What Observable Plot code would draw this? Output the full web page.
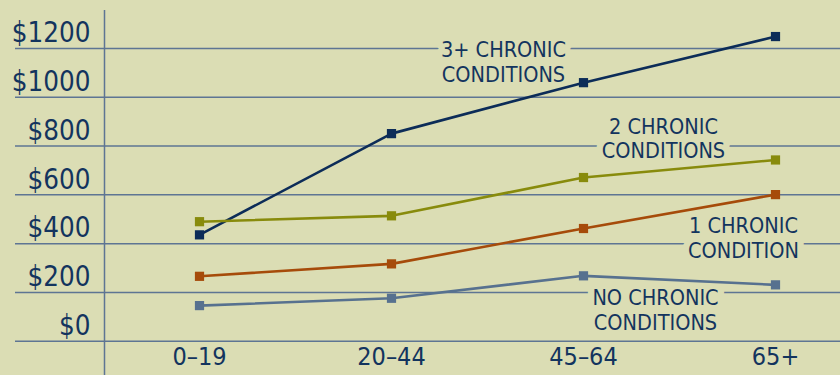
<!DOCTYPE html>
<html>
<head>
<meta charset="utf-8">
<script src="https://cdn.jsdelivr.net/npm/d3@7"></script>
<script src="https://cdn.jsdelivr.net/npm/@observablehq/plot@0.6"></script>
<style>
  html, body { margin: 0; padding: 0; background: #dbddb4; }
  #chart svg { display: block; }
</style>
</head>
<body>
<div id="chart"></div>
<script>
const ages = ["0–19", "20–44", "45–64", "65+"];
const yTicks = [0, 200, 400, 600, 800, 1000, 1200];
const threePlus = [436, 851, 1060, 1249];
const twoChronic = [490, 514, 671, 743];
const oneChronic = [266, 317, 462, 601];
const noChronic = [146, 176, 268, 231];
const seriesNames = ["3+ CHRONIC\nCONDITIONS", "2 CHRONIC\nCONDITIONS", "1 CHRONIC\nCONDITION", "NO CHRONIC\nCONDITIONS"];
const seriesValues = [threePlus, twoChronic, oneChronic, noChronic];
const seriesColors = ["#0c2c58", "#888b0c", "#a64b0a", "#57718f"];

const rows = seriesValues.flatMap((vals, i) =>
  vals.map((v, j) => ({series: seriesNames[i], age: ages[j], value: v, color: seriesColors[i]})));

const bg = "#dbddb4";
const grid = "#5e7593";
const ink = "#13345e";
const font = "'Liberation Sans Narrow', 'DejaVu Sans Condensed', 'Arial Narrow', sans-serif";

// label anchors: [series index, anchor age, anchor gridline value, dx, dy]
const labelAnchors = [
  [0, ages[2], 1200, -80, 13],
  [1, ages[2], 800, 80, -8],
  [2, ages[3], 400, -32, -6],
  [3, ages[2], 200, 72, 17]
];

const labelMarks = labelAnchors.map(([i, a, v, dx, dy]) =>
  Plot.text([{age: a, value: v, text: seriesNames[i]}], {
    x: "age", y: "value", text: "text", dx, dy,
    fill: ink, stroke: bg, strokeWidth: 13, paintOrder: "stroke",
    fontSize: 21.5, lineHeight: 1.15, fontFamily: font
  }));

const chart = Plot.plot({
  width: 840,
  height: 375,
  marginTop: 0, marginRight: 0, marginBottom: 0, marginLeft: 0,
  style: {background: bg, fontFamily: font},
  x: {type: "point", domain: ages, range: [198, 776], padding: 0, axis: null},
  y: {type: "linear", domain: [0, 1200], range: [340.7, 48], axis: null},
  marks: [
    Plot.ruleY(yTicks, {stroke: grid, strokeWidth: 1.5, insetLeft: 15}),
    Plot.ruleX([ages[0]], {dx: -95, insetTop: 10, stroke: grid, strokeWidth: 1.5}),
    Plot.text(yTicks, {
      y: d => d, text: d => "$" + d, frameAnchor: "left", dx: 90, dy: -15,
      textAnchor: "end", fontSize: 27.5, fill: ink, fontFamily: font
    }),
    Plot.text(ages, {
      x: d => d, text: d => d, frameAnchor: "bottom", dy: -11,
      fontSize: 25, fill: ink, fontFamily: font
    }),
    ...labelMarks,
    Plot.line(rows, {x: "age", y: "value", z: "series", stroke: "color", strokeWidth: 2.6}),
    Plot.dot(rows, {x: "age", y: "value", symbol: "square", r: 5.2, fill: "color", stroke: "none"})
  ]
});
document.getElementById("chart").appendChild(chart);
</script>
</body>
</html>
